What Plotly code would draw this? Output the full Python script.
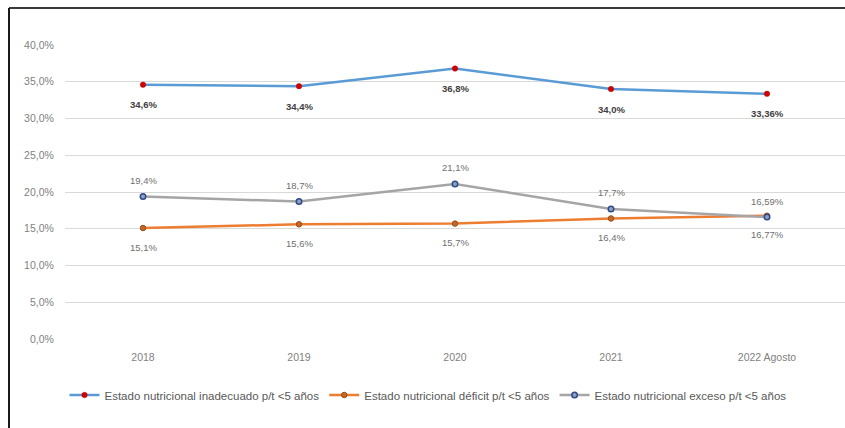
import plotly.graph_objects as go

# Categories and series (fractions of children under 5)
years = ["2018", "2019", "2020", "2021", "2022 Agosto"]
inadecuado = [0.346, 0.344, 0.368, 0.340, 0.3336]
deficit = [0.151, 0.156, 0.157, 0.164, 0.1677]
exceso = [0.194, 0.187, 0.211, 0.177, 0.1659]

inadecuado_lbl = ["34,6%", "34,4%", "36,8%", "34,0%", "33,36%"]
deficit_lbl = ["15,1%", "15,6%", "15,7%", "16,4%", "16,77%"]
exceso_lbl = ["19,4%", "18,7%", "21,1%", "17,7%", "16,59%"]

y_ticks = [0.0, 0.05, 0.10, 0.15, 0.20, 0.25, 0.30, 0.35, 0.40]
y_tick_text = ["0,0%", "5,0%", "10,0%", "15,0%", "20,0%", "25,0%", "30,0%", "35,0%", "40,0%"]

FONT = "Liberation Sans"
pos = list(range(len(years)))

fig = go.Figure()

fig.add_trace(go.Scatter(
    x=pos, y=inadecuado, mode="lines+markers",
    name="Estado nutricional inadecuado p/t <5 años",
    line=dict(color="#5B9BD5", width=2.5),
    marker=dict(color="#D00000", size=5.5, line=dict(color="#C00000", width=0.5)),
))
fig.add_trace(go.Scatter(
    x=pos, y=deficit, mode="lines+markers",
    name="Estado nutricional déficit p/t <5 años",
    line=dict(color="#ED7D31", width=2.5),
    marker=dict(color="#C0692B", size=5.5, line=dict(color="#9C4A12", width=1)),
))
fig.add_trace(go.Scatter(
    x=pos, y=exceso, mode="lines+markers",
    name="Estado nutricional exceso p/t <5 años",
    line=dict(color="#A5A5A5", width=2.5),
    marker=dict(color="#8EA0C8", size=5.5, line=dict(color="#2F4A85", width=1.5)),
))

annotations = []
for x, v, t in zip(pos, inadecuado, inadecuado_lbl):
    annotations.append(dict(x=x, y=v, text=t, showarrow=False, yshift=-20,
                            font=dict(family=FONT, size=9.5, color="#404040", weight="bold")))
for x, v, t in zip(pos, deficit, deficit_lbl):
    annotations.append(dict(x=x, y=v, text=t, showarrow=False, yshift=-19,
                            font=dict(family=FONT, size=9.5, color="#6F6F6F")))
for x, v, t in zip(pos, exceso, exceso_lbl):
    annotations.append(dict(x=x, y=v, text=t, showarrow=False, yshift=16,
                            font=dict(family=FONT, size=9.5, color="#6F6F6F")))

# Frame lines along the top and left edges of the image
L, R, T, B = 65, 0, 45, 89
W, H = 845 - L - R, 428 - T - B
def px_x(px):
    return (px - L) / W
def px_y(py):
    return 1 + (T - py) / H

shapes = [
    dict(type="line", xref="paper", yref="paper", x0=px_x(9), x1=px_x(845),
         y0=px_y(8), y1=px_y(8), line=dict(color="#3A3A3A", width=2)),
    dict(type="line", xref="paper", yref="paper", x0=px_x(9), x1=px_x(9),
         y0=px_y(8), y1=px_y(430), line=dict(color="#1A1A1A", width=2)),
]

fig.update_layout(
    width=845, height=428,
    margin=dict(l=L, r=R, t=T, b=B),
    paper_bgcolor="white", plot_bgcolor="white",
    font=dict(family=FONT, size=10, color="#7F7F7F"),
    showlegend=True,
    legend=dict(orientation="h", x=px_x(428), xanchor="center",
                y=px_y(395), yanchor="middle",
                font=dict(family=FONT, size=11.5, color="#595959"),
                itemwidth=30, tracegroupgap=0),
    annotations=annotations,
    shapes=shapes,
    xaxis=dict(range=[-0.5, len(years) - 0.5], tickvals=pos, ticktext=years,
               showgrid=False, showline=False, zeroline=False, ticks="outside",
               ticklen=8, tickcolor="rgba(0,0,0,0)",
               tickfont=dict(family=FONT, size=10.5, color="#7F7F7F"),
               fixedrange=True),
    yaxis=dict(range=[0, 0.40], tickvals=y_ticks, ticktext=y_tick_text,
               showgrid=True, gridcolor="#D9D9D9", gridwidth=1,
               zeroline=False, showline=False, ticks="outside",
               ticklen=8, tickcolor="rgba(0,0,0,0)",
               tickfont=dict(family=FONT, size=10.5, color="#7F7F7F"),
               fixedrange=True),
)

fig.write_html("out.html")
